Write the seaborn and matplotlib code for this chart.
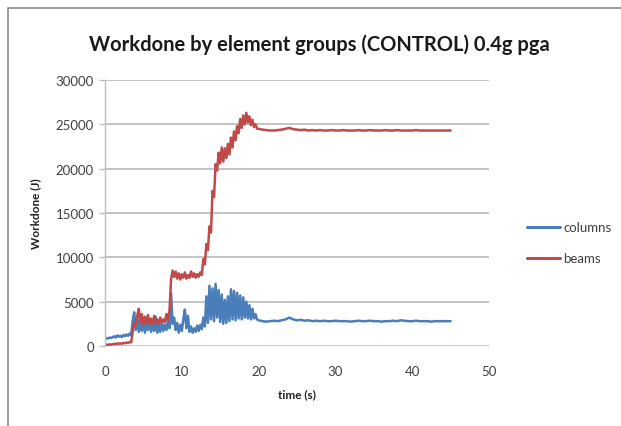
import numpy as np
import pandas as pd
import matplotlib
matplotlib.use("Agg")
import matplotlib.pyplot as plt
import seaborn as sns
from matplotlib.patches import Rectangle

# Sampling grid: 0.2 s during strong shaking, 0.5 s for the free-vibration tail
t_fast = np.round(np.arange(0.0, 20.0, 0.2), 2)          # 100 samples
t_slow = np.round(np.arange(20.0, 45.01, 0.5), 2)        # 51 samples

# Work done by the column group (J)
columns_fast = [
    800, 900, 850, 950, 900, 1000, 1100, 950, 1200, 1050,
    1150, 1000, 1250, 1100, 1300, 1150, 1400, 1200,
    2800, 3800, 1800, 3200, 1600, 2900, 1700, 3100, 1500, 2700,
    1800, 3000, 1600, 2600, 1700, 3300, 1500, 2500, 1600, 2800,
    1700, 2400, 1800, 3000, 2000,
    6000, 2500, 3200, 1800, 2600, 1500, 2400, 1700, 3000, 4100,
    2000, 3400, 1600, 2200, 1500, 2000, 1600, 2300, 1700, 2400,
    1900, 3200, 2200, 5600, 2600, 6800, 3000, 6500, 2800, 7000,
    3200, 6300, 2700, 5800, 2500, 5200, 2600, 5600, 2800, 6400,
    3000, 6200, 2900, 6000, 3100, 5700, 3000, 5500, 3200, 5000,
    3100, 4600, 3000, 4200, 3100, 3600, 3000,
]
columns_slow = [
    2900, 2800, 2750, 2800, 2850, 2800, 2900, 3000, 3200, 3000,
    2900, 2950, 2850, 2900, 2800, 2850, 2800, 2850, 2800, 2800,
    2850, 2800, 2800, 2800, 2750, 2800, 2850, 2800, 2800, 2850,
    2800, 2800, 2750, 2800, 2800, 2850, 2800, 2900, 2850, 2800,
    2800, 2850, 2800, 2800, 2800, 2750, 2800, 2800, 2800, 2800,
    2800,
]

# Work done by the beam group (J)
beams_fast = [
    100, 150, 100, 200, 150, 200, 250, 200, 300, 250,
    300, 250, 350, 300, 400, 350, 450, 400,
    1500, 2600, 2300, 3400, 4200, 2600, 3600, 2400, 3300, 2600,
    3500, 2500, 3100, 2400, 3400, 2600, 3000, 2500, 3200, 2600,
    3000, 2700, 3600, 2900, 4000,
    7500, 8500, 7800, 8400, 7600, 8200, 7500, 8100, 7700, 8300,
    7600, 8000, 7700, 8400, 7800, 8200, 7700, 8100, 7800, 8300,
    8000, 9800, 9200, 11500, 10800, 13500, 12800, 17500, 16800, 20500,
    19800, 21800, 20600, 22400, 20800, 22300, 21200, 22800, 21600, 23500,
    22400, 24200, 23200, 24800, 24000, 25600, 24600, 26000, 25000, 26300,
    25200, 25900, 24900, 25500, 24700, 25000, 24500,
]
beams_slow = [
    24500, 24400, 24350, 24300, 24300, 24350, 24400, 24500, 24600, 24450,
    24400, 24350, 24400, 24300, 24350, 24300, 24350, 24300, 24300, 24350,
    24300, 24300, 24350, 24300, 24300, 24300, 24350, 24300, 24300, 24350,
    24300, 24300, 24300, 24350, 24300, 24300, 24350, 24300, 24300, 24300,
    24300, 24350, 24300, 24300, 24300, 24300, 24300, 24300, 24300, 24300,
    24300,
]

series_names = ["columns", "beams"]
series_colors = {"columns": "#4a7ebb", "beams": "#be4b48"}
x_ticks = [0, 10, 20, 30, 40, 50]
y_ticks = [0, 5000, 10000, 15000, 20000, 25000, 30000]

time = np.concatenate([t_fast, t_slow])
df = pd.concat([
    pd.DataFrame({"time": time, "work": columns_fast + columns_slow, "group": "columns"}),
    pd.DataFrame({"time": time, "work": beams_fast + beams_slow, "group": "beams"}),
])

sns.set_theme(style="white")
plt.rcParams["font.family"] = ["Lato", "DejaVu Sans"]

fig = plt.figure(figsize=(6.21, 4.27), dpi=100)
ax = fig.add_axes([105 / 621, 1 - 347 / 427, 384 / 621, 266 / 427])

sns.lineplot(data=df, x="time", y="work", hue="group", hue_order=series_names,
             palette=series_colors, linewidth=1.8, ax=ax, legend=False,
             estimator=None, sort=False)

ax.set_xlim(0, 50)
ax.set_ylim(0, 30000)
ax.set_xticks(x_ticks)
ax.set_yticks(y_ticks)
ax.set_xticklabels([str(v) for v in x_ticks])
ax.set_yticklabels([str(v) for v in y_ticks])
ax.yaxis.grid(True, color="#bfbfbf", linewidth=1.3)
ax.set_axisbelow(True)
for side in ["top", "right", "bottom"]:
    ax.spines[side].set_visible(False)
ax.spines["left"].set_color("#bfbfbf")
ax.spines["left"].set_linewidth(1.0)
ax.tick_params(axis="y", which="major", left=True, length=4, width=1.0,
               color="#bfbfbf", labelsize=9.5, labelcolor="#404040", pad=4)
ax.tick_params(axis="x", which="major", bottom=False, labelsize=9.5,
               labelcolor="#404040", pad=8)

ax.set_xlabel("time (s)", fontsize=8.5, fontweight="bold", color="#202020", labelpad=8)
ax.set_ylabel("Workdone (J)", fontsize=8.5, fontweight="bold", color="#202020", labelpad=10)

fig.text(0.515, 1 - 45 / 427, "Workdone by element groups (CONTROL) 0.4g pga",
         ha="center", va="center", fontsize=14.5, fontweight="bold", color="#1a1a1a")

# legend drawn manually to the right of the plot area
for i, name in enumerate(series_names):
    y = 1 - (228 + 31 * i) / 427
    fig.add_artist(plt.Line2D([527 / 621, 560 / 621], [y, y],
                              color=series_colors[name], linewidth=2.2))
    fig.text(563 / 621, y, name, ha="left", va="center", fontsize=9.5, color="#404040")

# chart-area border (top and left edges)
fig.add_artist(Rectangle((8 / 621, -0.1), 1.2, 1 - 9 / 427 + 0.1, transform=fig.transFigure,
                         fill=False, edgecolor="#8c8c8c", linewidth=1.2))

fig.savefig("out.png", dpi=100)
